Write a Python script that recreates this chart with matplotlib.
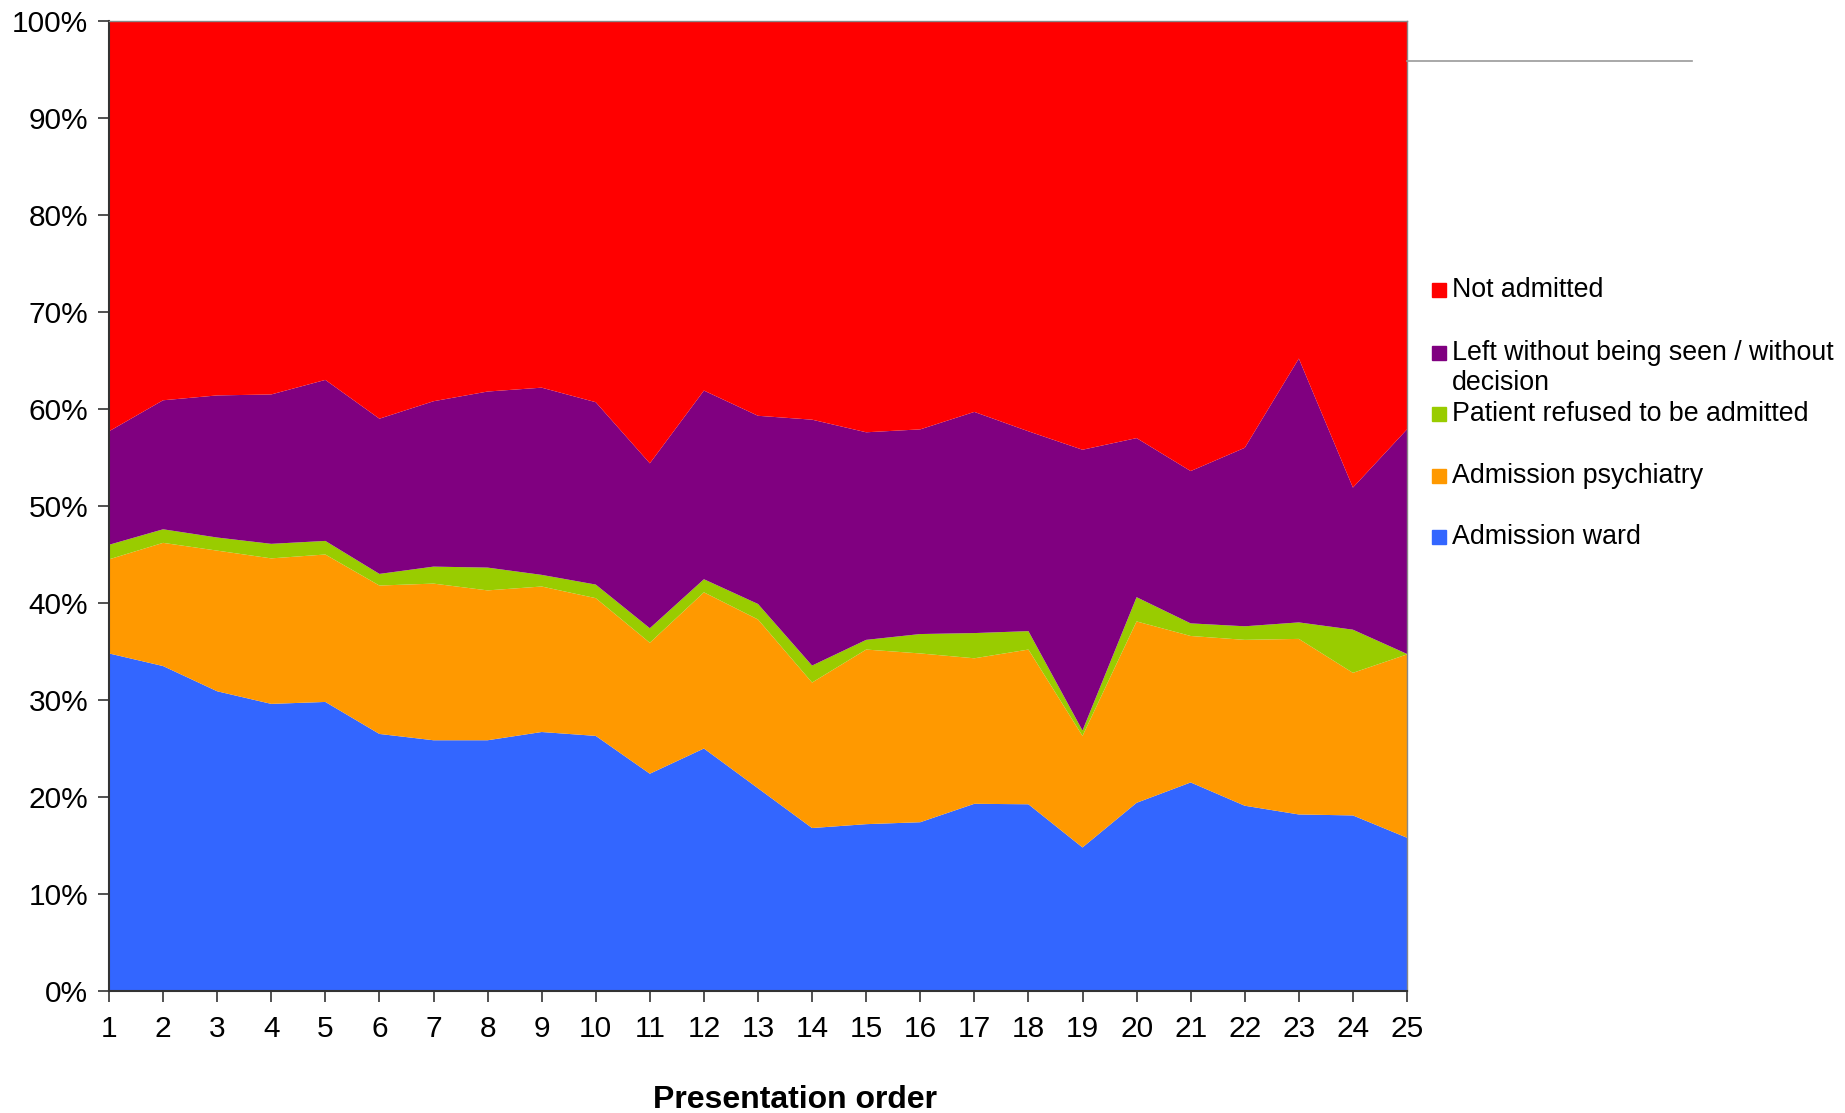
import matplotlib
matplotlib.use("Agg")
import matplotlib.pyplot as plt
from matplotlib.patches import Rectangle
from matplotlib.lines import Line2D
from matplotlib.ticker import PercentFormatter

plt.rcParams['font.family'] = ['Liberation Sans', 'DejaVu Sans']

# Presentation order 1..25
order = list(range(1, 26))

# Share of outcomes per presentation (percent)
admission_ward = [34.8, 33.5, 30.9, 29.6, 29.8, 26.5, 25.85, 25.85, 26.7, 26.3,
                  22.4, 25.0, 20.9, 16.8, 17.2, 17.4, 19.3, 19.25, 14.8, 19.4,
                  21.5, 19.1, 18.2, 18.1, 15.8]
admission_psychiatry = [9.7, 12.7, 14.5, 15.0, 15.2, 15.3, 16.15, 15.45, 15.0, 14.2,
                        13.5, 16.1, 17.4, 15.0, 18.0, 17.4, 15.0, 15.95, 11.5, 18.7,
                        15.1, 17.1, 18.1, 14.7, 18.9]
refused_admission = [1.5, 1.4, 1.35, 1.5, 1.4, 1.2, 1.75, 2.35, 1.2, 1.4,
                     1.5, 1.35, 1.6, 1.75, 1.0, 2.0, 2.6, 1.9, 0.55, 2.5,
                     1.3, 1.4, 1.7, 4.45, 0.05]
left_without_decision = [11.7, 13.3, 14.65, 15.4, 16.6, 16.0, 17.05, 18.15, 19.3, 18.8,
                         17.0, 19.45, 19.4, 25.35, 21.4, 21.1, 22.8, 20.6, 28.95, 16.4,
                         15.7, 18.4, 27.2, 14.65, 23.15]
not_admitted = [42.3, 39.1, 38.6, 38.5, 37.0, 41.0, 39.2, 38.2, 37.8, 39.3,
                45.6, 38.1, 40.7, 41.1, 42.4, 42.1, 40.3, 42.3, 44.2, 43.0,
                46.4, 44.0, 34.8, 48.1, 42.1]

series_labels = ["Admission ward", "Admission psychiatry",
                 "Patient refused to be admitted",
                 ["Left without being seen / without", "decision"], "Not admitted"]
colors = ["#3366FF", "#FF9900", "#99CC00", "#800080", "#FF0000"]

W, H = 1845, 1113
fig = plt.figure(figsize=(W / 100, H / 100), dpi=100)
ax = fig.add_axes([109 / W, 1 - 991 / H, (1407 - 109) / W, (991 - 21) / H])

ax.stackplot(order, admission_ward, admission_psychiatry, refused_admission,
             left_without_decision, not_admitted, colors=colors, linewidth=0)

ax.set_xlim(1, 25)
ax.set_ylim(0, 100)
ax.set_xticks(order)
ax.set_yticks(range(0, 101, 10))
ax.yaxis.set_major_formatter(PercentFormatter(decimals=0))
ax.tick_params(axis='both', labelsize=21.5, length=8, width=1.2, color='#333333',
               direction='out')
ax.tick_params(axis='x', pad=9)
ax.tick_params(axis='y', pad=7)
for side in ['left', 'bottom']:
    ax.spines[side].set_color('#333333')
    ax.spines[side].set_linewidth(1.5)
for side in ['top', 'right']:
    ax.spines[side].set_color('#888888')
    ax.spines[side].set_linewidth(1.0)

fig.text(795 / W, 1 - 1100 / H, "Presentation order", ha='center', va='center',
         fontsize=23, fontweight='bold')

# Thin rule to the right of the plot area
fig.add_artist(Line2D([1407 / W, 1692 / W], [1 - 61 / H, 1 - 61 / H],
                      color='#999999', linewidth=1.2))

# Legend, drawn top to bottom in stacking order
legend_rows = [(4, 290), (3, 353), (2, 414), (1, 476), (0, 537)]
line_step = 30
for idx, yc in legend_rows:
    fig.add_artist(Rectangle((1432 / W, 1 - (yc + 7) / H), 14 / W, 14 / H,
                             color=colors[idx], transform=fig.transFigure))
    lines = series_labels[idx]
    if isinstance(lines, str):
        lines = [lines]
    for k, line in enumerate(lines):
        fig.text(1452 / W, 1 - (yc + k * line_step) / H, line, ha='left',
                 va='center', fontsize=19.3)

fig.savefig("out.png", dpi=100)
